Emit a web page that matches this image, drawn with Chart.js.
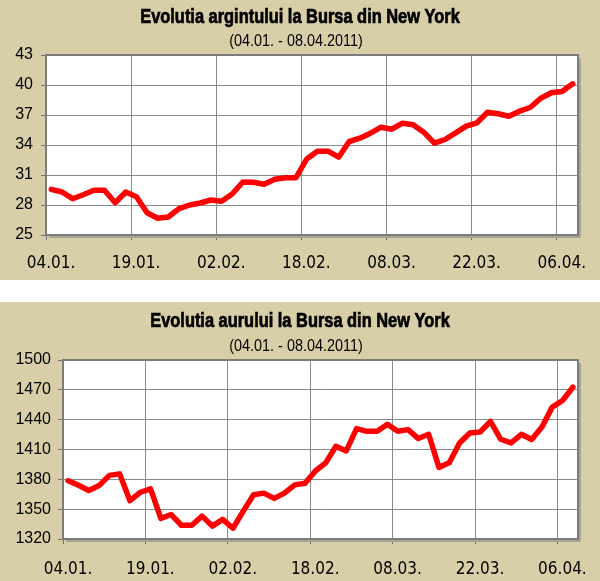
<!DOCTYPE html>
<html><head><meta charset="utf-8">
<script src="https://cdn.jsdelivr.net/npm/chart.js@4.4.1/dist/chart.umd.min.js"></script>
<style>
html,body{margin:0;padding:0;background:#fff;width:600px;height:581px;overflow:hidden}
.panel{position:absolute;left:0;width:600px;background:#D8CFA8}
#p1{top:0;height:280px}
#p2{top:302px;height:279px}
canvas{display:block}
</style></head><body>
<div class="panel" id="p1"><canvas id="c1" width="600" height="280"></canvas></div>
<div class="panel" id="p2"><canvas id="c2" width="600" height="279"></canvas></div>
<script>
// ---- data ----
const tickLabels = ['04.01.', '19.01.', '02.02.', '18.02.', '08.03.', '22.03.', '06.04.'];
const tickSessions = [0, 8, 16, 24, 32, 40, 48];   // session index at which each date label sits
const sessionCount = 50;

const silverPrices = [29.57, 29.3, 28.63, 29.03, 29.47, 29.47, 28.23, 29.3, 28.83, 27.23,
  26.67, 26.8, 27.63, 28.0, 28.2, 28.5, 28.37, 29.1, 30.3, 30.27,
  30.07, 30.57, 30.73, 30.73, 32.6, 33.38, 33.38, 32.78, 34.35, 34.68,
  35.18, 35.78, 35.58, 36.18, 36.02, 35.28, 34.18, 34.55, 35.22, 35.88,
  36.22, 37.28, 37.12, 36.88, 37.38, 37.75, 38.68, 39.22, 39.35, 40.12];

const goldPrices = [1378.6, 1374, 1368.7, 1373.7, 1384, 1385.5, 1358.5, 1367, 1370.4, 1340.7,
  1344.6, 1333.8, 1333.8, 1343, 1333, 1339.7, 1330.8, 1348, 1364.5, 1366.1,
  1360.8, 1366.1, 1374.4, 1376, 1388.4, 1396.6, 1413.3, 1408.6, 1431, 1428.3,
  1428.3, 1435.3, 1428.3, 1430, 1421, 1425.3, 1392, 1396.6, 1416.6, 1426.6,
  1427.6, 1438.3, 1420.3, 1416.6, 1425.3, 1420, 1432.6, 1452.6, 1459.3, 1472.6];

const silverAxis = {min: 25, max: 43, step: 3};
const goldAxis = {min: 1320, max: 1500, step: 30};

const silverTitle = 'Evolutia argintului la Bursa din New York';
const goldTitle = 'Evolutia aurului la Bursa din New York';
const periodText = '(04.01. - 08.04.2011)';

// ---- drawing ----
const CONDENSED = "'DejaVu Sans Condensed', 'DejaVu Sans', sans-serif";
const SANS = "'Liberation Sans', Arial, sans-serif";

const framePlugin = {
  id: 'frame',
  beforeDraw(chart) {
    const {ctx, chartArea: a} = chart;
    ctx.save();
    ctx.fillStyle = '#ffffff';
    ctx.fillRect(a.left, a.top, a.right - a.left, a.bottom - a.top);
    ctx.restore();
  },
  beforeDatasetsDraw(chart) {
    const {ctx, chartArea: a} = chart;
    ctx.save();
    ctx.strokeStyle = '#aba58f';
    ctx.lineWidth = 2;
    ctx.beginPath();
    ctx.moveTo(a.right + 2, a.top + 3);
    ctx.lineTo(a.right + 2, a.bottom + 2);
    ctx.lineTo(a.left + 3, a.bottom + 2);
    ctx.stroke();
    ctx.strokeStyle = '#7c7c7c';
    ctx.lineWidth = 2;
    ctx.strokeRect(a.left, a.top, a.right - a.left, a.bottom - a.top);
    ctx.restore();
  }
};

// Heavy condensed heading + period line, drawn as canvas text
const headingPlugin = {
  id: 'heading',
  afterDraw(chart, args, o) {
    const ctx = chart.ctx;
    ctx.save();
    ctx.fillStyle = '#000';
    ctx.strokeStyle = '#000';
    ctx.textAlign = 'center';
    ctx.textBaseline = 'alphabetic';
    ctx.font = "bold 20px " + SANS;
    let w = ctx.measureText(o.title).width * 0.82;
    ctx.lineWidth = 0.7;
    ctx.fillText(o.title, o.cx, o.titleY, w);
    ctx.strokeText(o.title, o.cx, o.titleY, w);
    ctx.font = "16px " + SANS;
    w = ctx.measureText(o.sub).width * 0.9;
    ctx.fillText(o.sub, o.subCx, o.subY, w);
    ctx.restore();
  }
};

function makeChart(id, values, axis, title, opt) {
  const points = values.map((v, i) => ({x: i + 0.5, y: v}));
  return new Chart(document.getElementById(id), {
    type: 'line',
    data: {datasets: [{
      data: points,
      borderColor: '#ff0000',
      borderWidth: 5.5,
      pointRadius: 0,
      tension: 0,
      borderJoinStyle: 'round',
      borderCapStyle: 'round',
      fill: false
    }]},
    options: {
      responsive: false,
      animation: false,
      events: [],
      layout: {padding: {left: 0, right: 22, top: opt.plotTop, bottom: 0}},
      plugins: {
        legend: {display: false},
        tooltip: {enabled: false},
        title: {display: false},
        heading: {title: title, sub: periodText, cx: 300, titleY: opt.titleY, subCx: 296, subY: opt.subY}
      },
      scales: {
        x: {
          type: 'linear',
          min: 0, max: sessionCount,
          afterBuildTicks(s) { s.ticks = tickSessions.map(v => ({value: v})); },
          afterFit(s) { s.height = opt.xHeight; },
          ticks: {
            autoSkip: false, maxRotation: 0, color: '#000',
            font: {family: CONDENSED, size: 17},
            padding: opt.xPad, labelOffset: 5,
            callback: (v, i) => tickLabels[i]
          },
          grid: {color: '#8a8a8a', lineWidth: 1, tickLength: 5, tickColor: '#6e6e6e'},
          border: {display: false}
        },
        y: {
          min: axis.min, max: axis.max,
          afterFit(s) { s.width = opt.yWidth; },
          ticks: {
            stepSize: axis.step, color: '#000',
            font: {family: SANS, size: 16},
            padding: opt.yPad,
            callback: v => String(v)
          },
          grid: {color: '#8a8a8a', lineWidth: 1, tickLength: 5, tickColor: '#6e6e6e'},
          border: {display: false}
        }
      }
    },
    plugins: [framePlugin, headingPlugin]
  });
}

makeChart('c1', silverPrices, silverAxis, silverTitle,
  {plotTop: 55, titleY: 23, subY: 46, xHeight: 45, xPad: 13, yWidth: 46, yPad: 8});
makeChart('c2', goldPrices, goldAxis, goldTitle,
  {plotTop: 58, titleY: 25, subY: 49, xHeight: 42, xPad: 15, yWidth: 63, yPad: 7});
</script>
</body></html>
